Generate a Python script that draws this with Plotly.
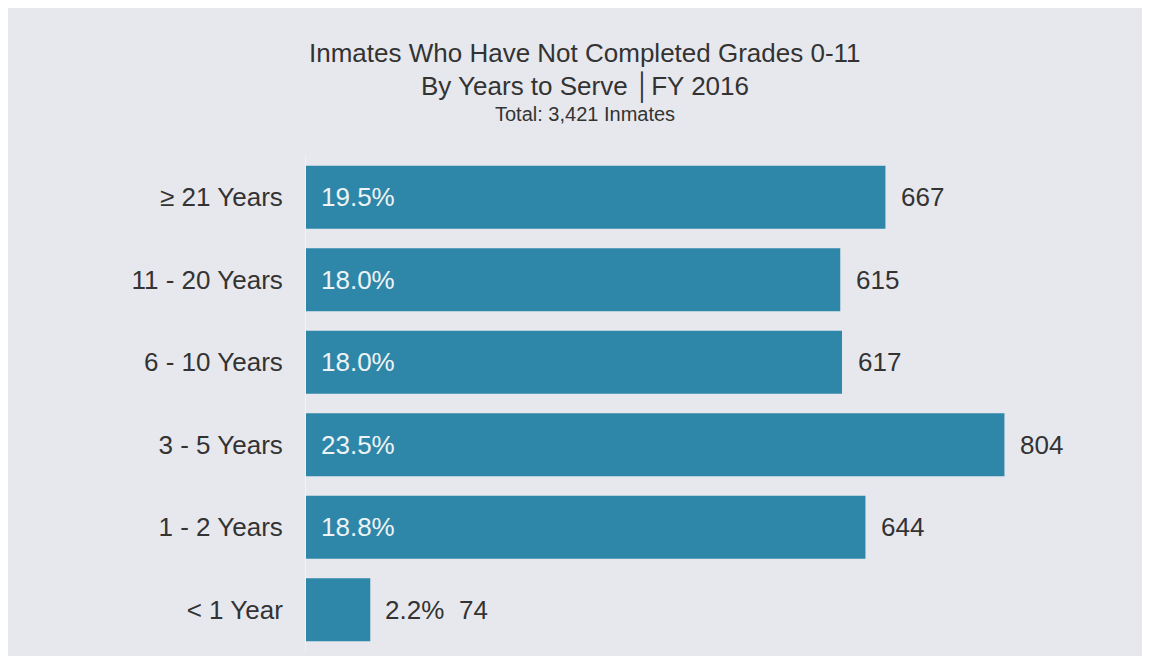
import plotly.graph_objects as go

categories = ["≥ 21 Years", "11 - 20 Years", "6 - 10 Years", "3 - 5 Years", "1 - 2 Years", "< 1 Year"]
counts = [667, 615, 617, 804, 644, 74]
percents = ["19.5%", "18.0%", "18.0%", "23.5%", "18.8%", "2.2%"]

title_lines = ["Inmates Who Have Not Completed Grades 0-11",
               "By Years to Serve \u2502FY 2016",
               "Total: 3,421 Inmates"]

BAR = "#2e87a8"
BG = "#e7e8ed"
TXT = "#333333"
FONT = "Arial, Liberation Sans, sans-serif"
LBL = 26

fig = go.Figure()
fig.add_trace(go.Bar(
    y=categories, x=counts, orientation="h",
    marker=dict(color=BAR, line=dict(width=0)),
    hoverinfo="skip", showlegend=False,
))

annotations = []
for cat, c, p in zip(categories, counts, percents):
    if c > 200:
        annotations.append(dict(x=0, y=cat, xref="x", yref="y", text=p, showarrow=False,
                                xanchor="left", xshift=13,
                                font=dict(family=FONT, size=LBL, color="#eef3f6")))
        annotations.append(dict(x=c, y=cat, xref="x", yref="y", text=str(c), showarrow=False,
                                xanchor="left", xshift=14,
                                font=dict(family=FONT, size=LBL, color=TXT)))
    else:
        annotations.append(dict(x=c, y=cat, xref="x", yref="y", text=p, showarrow=False,
                                xanchor="left", xshift=13,
                                font=dict(family=FONT, size=LBL, color=TXT)))
        annotations.append(dict(x=c, y=cat, xref="x", yref="y", text=str(c), showarrow=False,
                                xanchor="left", xshift=87,
                                font=dict(family=FONT, size=LBL, color=TXT)))

title_y = [1.208, 1.139, 1.085]
title_size = [26, 26, 20]
for t, yy, s in zip(title_lines, title_y, title_size):
    annotations.append(dict(x=0.351, y=yy, xref="paper", yref="paper", text=t, showarrow=False,
                            xanchor="center", yanchor="middle",
                            font=dict(family=FONT, size=s, color=TXT)))

fig.update_layout(
    width=1134, height=648,
    margin=dict(l=298, r=42, t=148, b=5),
    paper_bgcolor=BG,
    plot_bgcolor=BG,
    bargap=0.237,
    font=dict(family=FONT, color=TXT),
    annotations=annotations,
    xaxis=dict(range=[0, 914], showgrid=False, zeroline=False, showticklabels=False,
               showline=False, fixedrange=True),
    yaxis=dict(categoryorder="array", categoryarray=categories[::-1],
               showgrid=False, zeroline=False, showline=True, linecolor="#f2f3f6",
               ticks="", ticklabelstandoff=17,
               tickfont=dict(family=FONT, size=LBL, color=TXT), fixedrange=True),
)

fig.write_html("out.html")
